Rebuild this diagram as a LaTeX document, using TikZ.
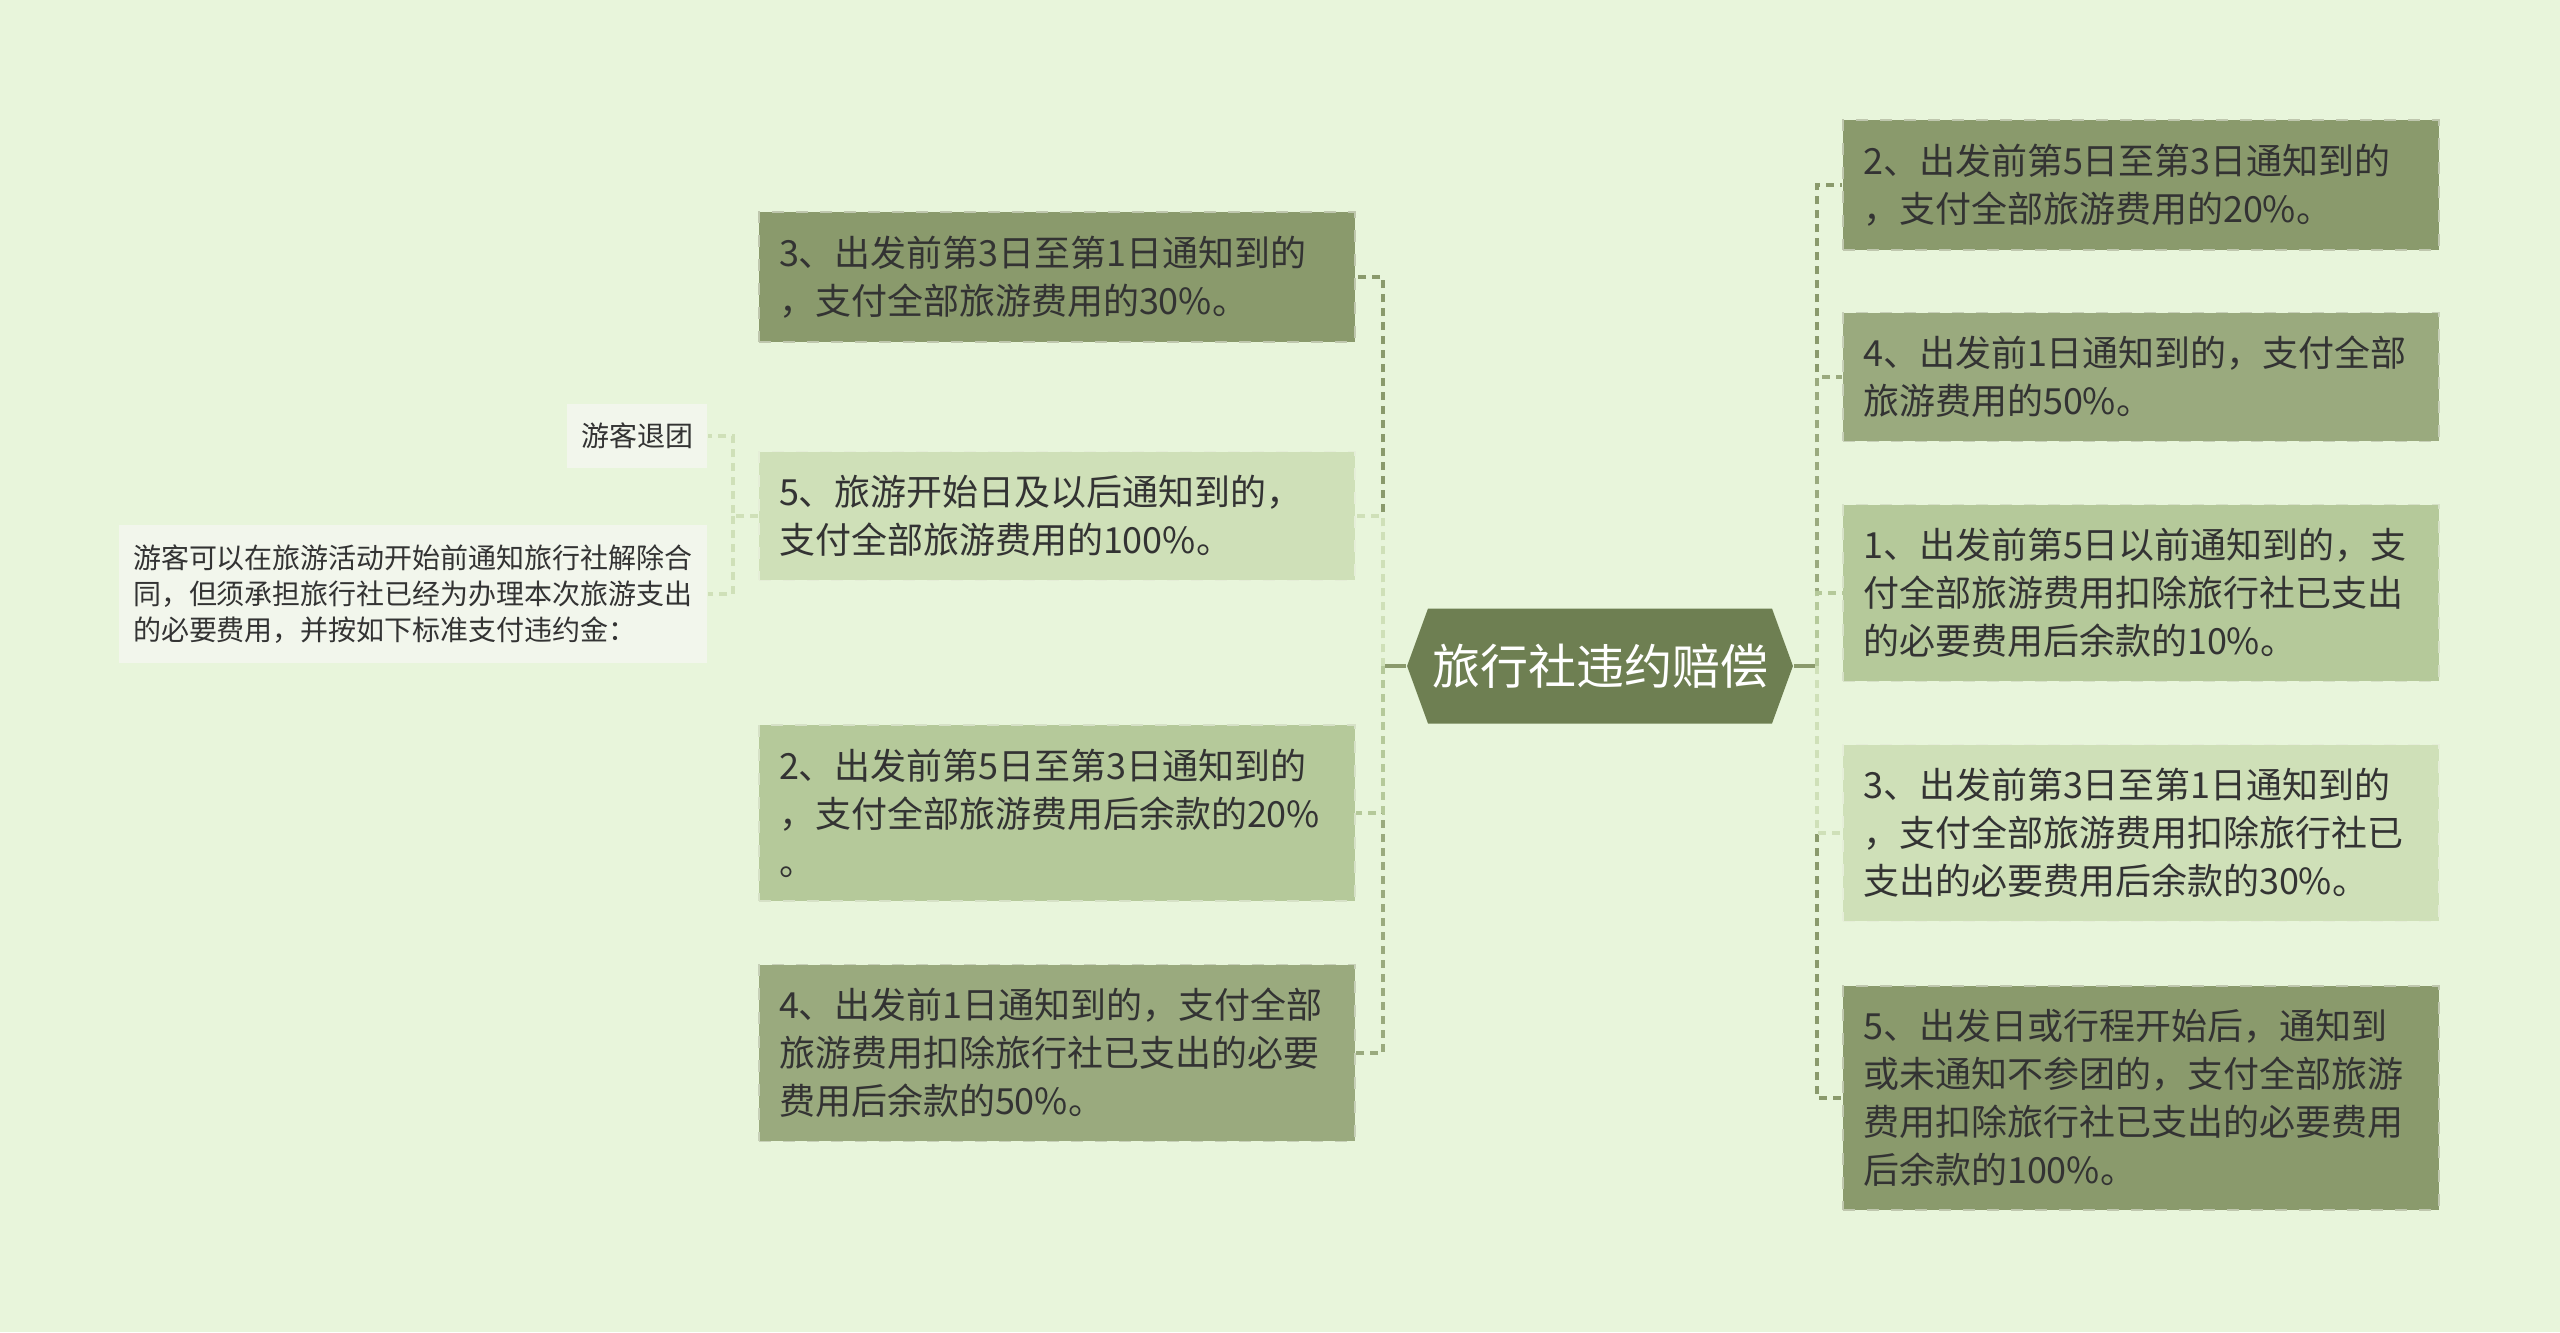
\documentclass[tikz,border=0pt]{standalone}
\usepackage{fontspec}
\setmainfont{Noto Sans CJK SC}
\usetikzlibrary{shapes.symbols}
\definecolor{bgcol}{HTML}{E8F5DB}
\definecolor{hubcol}{HTML}{6E7F52}
\definecolor{darkcol}{HTML}{8A9A6C}
\definecolor{middark}{HTML}{9AAA7E}
\definecolor{midcol}{HTML}{B5C99A}
\definecolor{lightcol}{HTML}{CFE0B8}
\definecolor{paper}{HTML}{F2F6EC}
\definecolor{textcol}{HTML}{333333}
\tikzset{
  box/.style={rectangle, fill=#1, draw=#1!55!white, dashed, line width=0.4pt,
    text=textcol, align=left, text width=139pt, inner xsep=5pt, inner ysep=5.9pt,
    font=\fontsize{9pt}{12pt}\selectfont},
  note/.style={rectangle, fill=paper, text=textcol, align=left,
    inner xsep=3.6pt, inner ysep=4.8pt, font=\fontsize{7pt}{9pt}\selectfont},
  hub/.style={signal, signal to=west and east, signal pointer angle=140,
    fill=hubcol, text=white, minimum width=88pt, minimum height=28.75pt,
    inner xsep=1pt, font=\fontsize{12pt}{14pt}\selectfont},
  link/.style={draw=#1, line width=0.9pt, dash pattern=on 2pt off 1.5pt},
  hubline/.style={draw=darkcol, line width=0.9pt}
}
\begin{document}
\begin{tikzpicture}[x=0.25pt, y=-0.25pt]
  \fill[bgcol] (0,0) rectangle (2560,1332);
  \useasboundingbox (0,0) rectangle (2560,1332);
  % Centre
  \node[hub] (hub) at (1600,666) {旅行社违约赔偿};
  \coordinate (lt) at (1383,666);
  \coordinate (rt) at (1817,666);
  % Left: travel agency side
  \node[box=darkcol] (l1) at (1057,277) {3、出发前第3日至第1日通知到的\\，支付全部旅游费用的30\%。};
  \node[box=lightcol] (l2) at (1057,516) {5、旅游开始日及以后通知到的，\\支付全部旅游费用的100\%。};
  \node[box=midcol] (l3) at (1057,813) {2、出发前第5日至第3日通知到的\\，支付全部旅游费用后余款的20\%\\。};
  \node[box=middark] (l4) at (1057,1053) {4、出发前1日通知到的，支付全部\\旅游费用扣除旅行社已支出的必要\\费用后余款的50\%。};
  % Right
  \node[box=darkcol] (r1) at (2141,185) {2、出发前第5日至第3日通知到的\\，支付全部旅游费用的20\%。};
  \node[box=middark] (r2) at (2141,377) {4、出发前1日通知到的，支付全部\\旅游费用的50\%。};
  \node[box=midcol] (r3) at (2141,593) {1、出发前第5日以前通知到的，支\\付全部旅游费用扣除旅行社已支出\\的必要费用后余款的10\%。};
  \node[box=lightcol] (r4) at (2141,833) {3、出发前第3日至第1日通知到的\\，支付全部旅游费用扣除旅行社已\\支出的必要费用后余款的30\%。};
  \node[box=darkcol] (r5) at (2141,1098) {5、出发日或行程开始后，通知到\\或未通知不参团的，支付全部旅游\\费用扣除旅行社已支出的必要费用\\后余款的100\%。};
  % Far left notes
  \node[note] (quit) at (637,436) {游客退团};
  \node[note] (rule) at (413,594) {游客可以在旅游活动开始前通知旅行社解除合\\同，但须承担旅行社已经为办理本次旅游支出\\的必要费用，并按如下标准支付违约金：};
  \coordinate (st) at (733,516);
  % Connectors
  \draw[hubline] (hub.west) -- (lt);
  \draw[hubline] (hub.east) -- (rt);
  \foreach \n/\c in {l1/darkcol, l2/lightcol, l4/middark, l3/midcol}
    \draw[link=\c] (lt) |- (\n.east);
  \foreach \n/\c in {r1/darkcol, r2/middark, r3/midcol, r5/darkcol, r4/lightcol}
    \draw[link=\c] (rt) |- (\n.west);
  \draw[link=lightcol] (l2.west) -- (st) |- (quit.east);
  \draw[link=lightcol] (st) |- (rule.east);
\end{tikzpicture}
\end{document}
